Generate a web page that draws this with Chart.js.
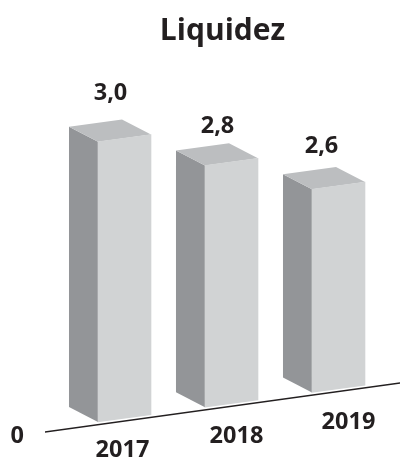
<!DOCTYPE html>
<html>
<head>
<meta charset="utf-8">
<title>Liquidez</title>
<script src="https://cdn.jsdelivr.net/npm/chart.js@4/dist/chart.umd.min.js"></script>
<style>
  html, body { margin: 0; background: #fff; }
  canvas { display: block; }
</style>
</head>
<body>
<canvas id="myChart" width="400" height="459"></canvas>
<script>
// Data
const years = [2017, 2018, 2019];
const liquidez = [3.0, 2.8, 2.6];
const zeroLabel = '0';

// The drawing has a broken axis: the "0" sits where the value 1.53 would be
const axisMin = 1.531;
const axisMax = 3.463;
const barBase = 1.545;

// Colours of the three faces
const frontColor = '#d1d3d4';
const sideColor = '#939598';
const topColor = '#bcbec0';
const textColor = '#231f20';

// Fake perspective: everything in the plot leans up to the right
const slope = -0.138;
const depthX = -29;
const depthY = -19;

// Hand placement of the text, the original isn't regular
const valueNudge = [[-14, -45], [-14, -36], [-17, -39]];
const yearNudge = [[-2, 29], [5, 30], [10, 31]];

const textFont = 'bold 23.5px "Open Sans"';

const bars3d = {
  id: 'bars3d',
  beforeDatasetsDraw(chart) {
    const ctx = chart.ctx;
    const area = chart.chartArea;
    ctx.save();
    ctx.transform(1, slope, 0, 1, 0, -slope * area.left);

    // axis line
    ctx.strokeStyle = textColor;
    ctx.lineWidth = 1.5;
    ctx.beginPath();
    ctx.moveTo(area.left, area.bottom);
    ctx.lineTo(area.right, area.bottom);
    ctx.stroke();

    // side and top of each bar
    chart.getDatasetMeta(0).data.forEach(bar => {
      const l = bar.x - bar.width / 2;
      const r = bar.x + bar.width / 2;
      ctx.fillStyle = sideColor;
      ctx.beginPath();
      ctx.moveTo(l, bar.y);
      ctx.lineTo(l + depthX, bar.y + depthY);
      ctx.lineTo(l + depthX, bar.base + depthY);
      ctx.lineTo(l, bar.base);
      ctx.closePath();
      ctx.fill();
      ctx.fillStyle = topColor;
      ctx.beginPath();
      ctx.moveTo(l, bar.y);
      ctx.lineTo(l + depthX, bar.y + depthY);
      ctx.lineTo(r + depthX, bar.y + depthY);
      ctx.lineTo(r, bar.y);
      ctx.closePath();
      ctx.fill();
    });
  },
  afterDatasetsDraw(chart) {
    const ctx = chart.ctx;
    const area = chart.chartArea;
    ctx.restore();

    ctx.save();
    ctx.font = textFont;
    ctx.fillStyle = textColor;
    ctx.textAlign = 'center';
    ctx.textBaseline = 'middle';
    chart.getDatasetMeta(0).data.forEach((bar, i) => {
      const lean = slope * (bar.x - area.left);
      const text = liquidez[i].toFixed(1).replace('.', ',');
      ctx.fillText(text, bar.x + valueNudge[i][0], bar.y + lean + valueNudge[i][1]);
      const xPos = chart.scales.x.getPixelForValue(years[i]);
      ctx.fillText(String(years[i]), xPos + yearNudge[i][0], area.bottom + lean + yearNudge[i][1]);
    });
    ctx.restore();
  }
};

var chart = new Chart(document.getElementById('myChart').getContext('2d'), {
  type: 'bar',
  data: {
    datasets: [{
      label: 'Liquidez',
      data: years.map((y, i) => ({ x: y, y: liquidez[i] })),
      backgroundColor: frontColor,
      base: barBase,
      barThickness: 53
    }]
  },
  plugins: [bars3d],
  options: {
    responsive: false,
    animation: false,
    layout: { padding: 0 },
    plugins: {
      legend: { display: false },
      tooltip: { enabled: false },
      title: {
        display: true,
        text: 'Liquidez',
        fullSize: false,
        color: textColor,
        font: { family: 'Open Sans', size: 30, weight: 'bold', lineHeight: 1.2 },
        padding: { top: 13, bottom: 11 }
      }
    },
    scales: {
      x: {
        type: 'linear',
        offset: false,
        min: 2016.257,
        max: 2019.575,
        grid: { display: false, drawTicks: false },
        border: { display: false },
        ticks: { display: false },
        afterFit(scale) { scale.height = 27; }
      },
      y: {
        min: axisMin,
        max: axisMax,
        grid: { display: false, drawTicks: false },
        border: { display: false },
        afterBuildTicks(scale) { scale.ticks = [{ value: axisMin }]; },
        afterFit(scale) {
          scale.width = 45;
          scale.paddingTop = 0;
          scale.paddingBottom = 0;
        },
        ticks: {
          callback: () => zeroLabel,
          color: textColor,
          padding: 21,
          labelOffset: 4,
          font: { family: 'Open Sans', size: 23.5, weight: 'bold' }
        }
      }
    }
  }
});
</script>
</body>
</html>
